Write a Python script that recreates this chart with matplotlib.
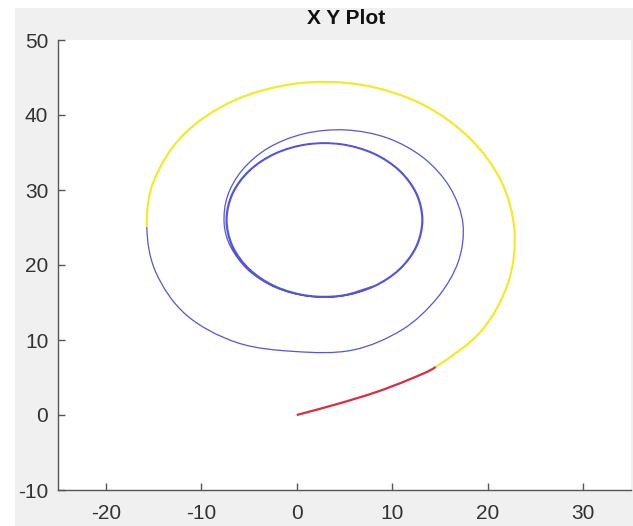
import matplotlib.pyplot as plt
import matplotlib.patches as patches
from matplotlib.path import Path
import numpy as np

plt.rcParams["font.family"] = ["Liberation Sans", "DejaVu Sans"]
plt.rcParams["axes.unicode_minus"] = False

# trajektoria (x, y); odcinki stykają się końcami
red_x = [0.0, 4.2, 8.3, 11.8, 14.55]
red_y = [0.0, 1.45, 3.05, 4.75, 6.4]

yellow_x = [14.55, 19.31, 22.15, 22.8, 21.45, 18.16, 13.2, 6.89, -0.02,
            -6.6, -11.87, -14.97, -15.7]
yellow_y = [6.4, 11.19, 17.69, 24.5, 31.05, 36.84, 41.39, 44.0, 44.2,
            41.91, 37.36, 31.2, 25.1]

# zewnętrzna pętla niebieska, przejście, dwie pętle wewnętrzne
blue_x = [-15.7, -14.77, -11.58, -6.25, -0.1, 5.87, 11.05, 14.7, 16.9, 17.4,
          16.06, 13.32, 9.5, 5.1, 0.78, -2.95, -5.68, -7.25, -7.6,
          -6.92, -5.07, -2.28, 1.11, 4.69,
          8.05, 10.79, 12.58, 13.2, 12.58, 10.79, 8.05, 4.69, 1.11,
          -2.25, -4.99, -6.78, -7.4, -6.78, -4.99, -2.25, 1.11, 4.69,
          8.0, 10.71, 12.48, 13.1, 12.48, 10.71, 8.0, 4.67, 1.13,
          -2.2, -4.91, -6.68, -7.3, -6.68, -4.91, -2.2, 1.13, 4.67, 8.0]
blue_y = [25.1, 19.07, 13.35, 9.65, 8.46, 8.66, 11.38, 15.6, 20.4, 25.5,
          30.29, 34.24, 36.93, 38.01, 37.51, 35.63, 32.7, 29.19, 25.5,
          22.43, 19.31, 17.04, 15.86, 15.86,
          17.08, 19.38, 22.48, 26.0, 29.52, 32.62, 34.92, 36.14, 36.14,
          34.92, 32.62, 29.52, 26.0, 22.48, 19.38, 17.08, 15.86, 15.86,
          17.17, 19.44, 22.51, 26.0, 29.49, 32.56, 34.83, 36.05, 36.05,
          34.83, 32.56, 29.49, 26.0, 22.51, 19.44, 17.17, 15.96, 15.96, 17.17]


def odcinki_beziera(xs, ys):
    # gładka krzywa przez wszystkie punkty (styczne wg długości cięciw)
    p = np.column_stack([xs, ys]).astype(float)
    d = np.hypot(*np.diff(p, axis=0).T)
    m = np.zeros_like(p)
    m[1:-1] = (p[2:] - p[:-2]) / (d[:-1] + d[1:])[:, None]
    m[0] = (p[1] - p[0]) / d[0]
    m[-1] = (p[-1] - p[-2]) / d[-1]
    return [(p[i], p[i] + m[i] * d[i] / 3, p[i + 1] - m[i + 1] * d[i] / 3, p[i + 1])
            for i in range(len(p) - 1)]


def sciezka(segs):
    verts = [segs[0][0]]
    codes = [Path.MOVETO]
    for _, c1, c2, k in segs:
        verts += [c1, c2, k]
        codes += [Path.CURVE4] * 3
    return Path(verts, codes)


traj_x = red_x + yellow_x[1:] + blue_x[1:]
traj_y = red_y + yellow_y[1:] + blue_y[1:]
segs = odcinki_beziera(traj_x, traj_y)
n_red = len(red_x) - 1
n_yel = len(yellow_x) - 1

fig = plt.figure(figsize=(6.33, 5.26), dpi=100)
fig.patch.set_facecolor("white")
tlo = patches.Rectangle((15 / 633, 0), 1, 518 / 526, transform=fig.transFigure,
                        facecolor="#f0f0f0", edgecolor="none", zorder=-10)
fig.add_artist(tlo)

ax = fig.add_axes([58 / 633, 1 - 490 / 526, 573 / 633, 450 / 526])
ax.set_facecolor("white")

ax.add_patch(patches.PathPatch(sciezka(segs[n_red + n_yel:]), fill=False,
                               edgecolor="#2a2ad0", lw=0.9, alpha=0.8))
ax.add_patch(patches.PathPatch(sciezka(segs[n_red:n_red + n_yel]), fill=False,
                               edgecolor="#f2ea2a", lw=1.6, capstyle="butt"))
ax.add_patch(patches.PathPatch(sciezka(segs[:n_red]), fill=False,
                               edgecolor="#e02a40", lw=1.6, capstyle="butt"))

ax.set_xlim(-25, 35)
ax.set_ylim(-10, 50)
ax.set_xticks([-20, -10, 0, 10, 20, 30])
ax.set_yticks([-10, 0, 10, 20, 30, 40, 50])

for s in ["top", "right"]:
    ax.spines[s].set_visible(False)
for s in ["left", "bottom"]:
    ax.spines[s].set_color("#555555")
    ax.spines[s].set_linewidth(1.0)

ax.tick_params(direction="in", length=5, width=1, color="#555555",
               labelsize=15, labelcolor="#333333")
ax.tick_params(axis="x", pad=10)
ax.tick_params(axis="y", pad=7)

fig.text(0.547, 1 - 18 / 526, "X Y Plot", ha="center", va="center",
         fontsize=15, fontweight="bold", color="#111111")

plt.savefig("out.png", dpi=100)
